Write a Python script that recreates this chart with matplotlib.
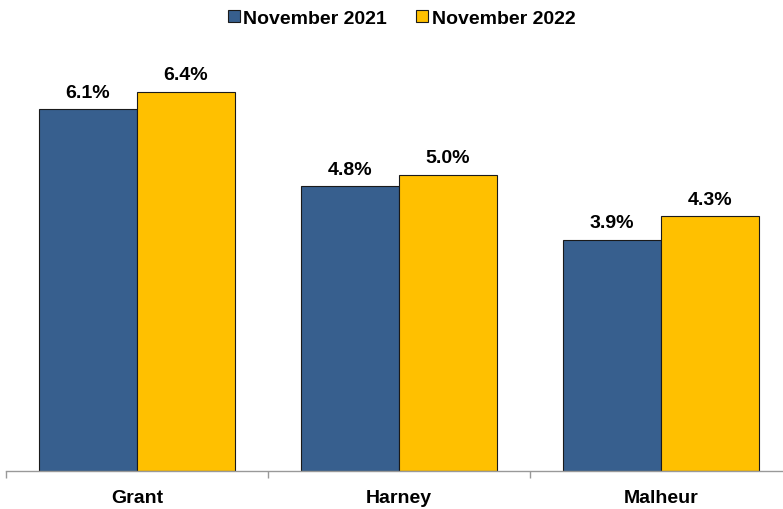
import matplotlib
matplotlib.use("Agg")
import matplotlib.pyplot as plt
import numpy as np

categories = ["Grant", "Harney", "Malheur"]
nov_2021 = [6.1, 4.8, 3.9]
nov_2022 = [6.4, 5.0, 4.3]
series_names = ["November 2021", "November 2022"]

plt.rcParams['font.family'] = ['Liberation Sans', 'DejaVu Sans']

W, H = 783, 510
fig = plt.figure(figsize=(W/100, H/100), dpi=100)
ax = fig.add_axes([6/W, 38/H, (792-6)/W, (472-57)/H])

x = np.arange(len(categories))
bw = 0.374
c1, c2 = "#375F8E", "#FFC000"
b1 = ax.bar(x - bw/2, nov_2021, bw, color=c1, edgecolor="#1a1a1a", linewidth=0.8, label=series_names[0])
b2 = ax.bar(x + bw/2, nov_2022, bw, color=c2, edgecolor="#1a1a1a", linewidth=0.8, label=series_names[1])

for bars, vals in ((b1, nov_2021), (b2, nov_2022)):
    for r, v in zip(bars, vals):
        ax.annotate(f"{v:.1f}%", (r.get_x() + r.get_width()/2, v),
                    xytext=(0, 6), textcoords="offset points",
                    ha="center", va="bottom", fontsize=14, fontweight="bold")

ax.set_xlim(-0.5, 2.5)
ax.set_ylim(0, 7)
for s in ("top", "right", "left"):
    ax.spines[s].set_visible(False)
ax.spines["bottom"].set_color("#999999")
ax.spines["bottom"].set_linewidth(1.0)
ax.set_yticks([])
ax.set_xticks([-0.5, 0.5, 1.5, 2.5])
ax.set_xticklabels([])
ax.set_xticks(x, minor=True)
ax.set_xticklabels(categories, minor=True, fontsize=14, fontweight="bold")
ax.tick_params(axis="x", which="major", length=5, color="#999999", width=1.0, direction="out")
ax.tick_params(axis="x", which="minor", length=0, pad=13)

fig.legend(handles=[b1, b2], labels=series_names, loc="upper center",
           bbox_to_anchor=(0.513, 1.0), ncol=2, frameon=False,
           prop={"weight": "bold", "size": 14}, handlelength=0.6, handleheight=0.6,
           handletextpad=0.2, columnspacing=1.5, borderaxespad=0.15)

fig.savefig("out.png", dpi=100)
